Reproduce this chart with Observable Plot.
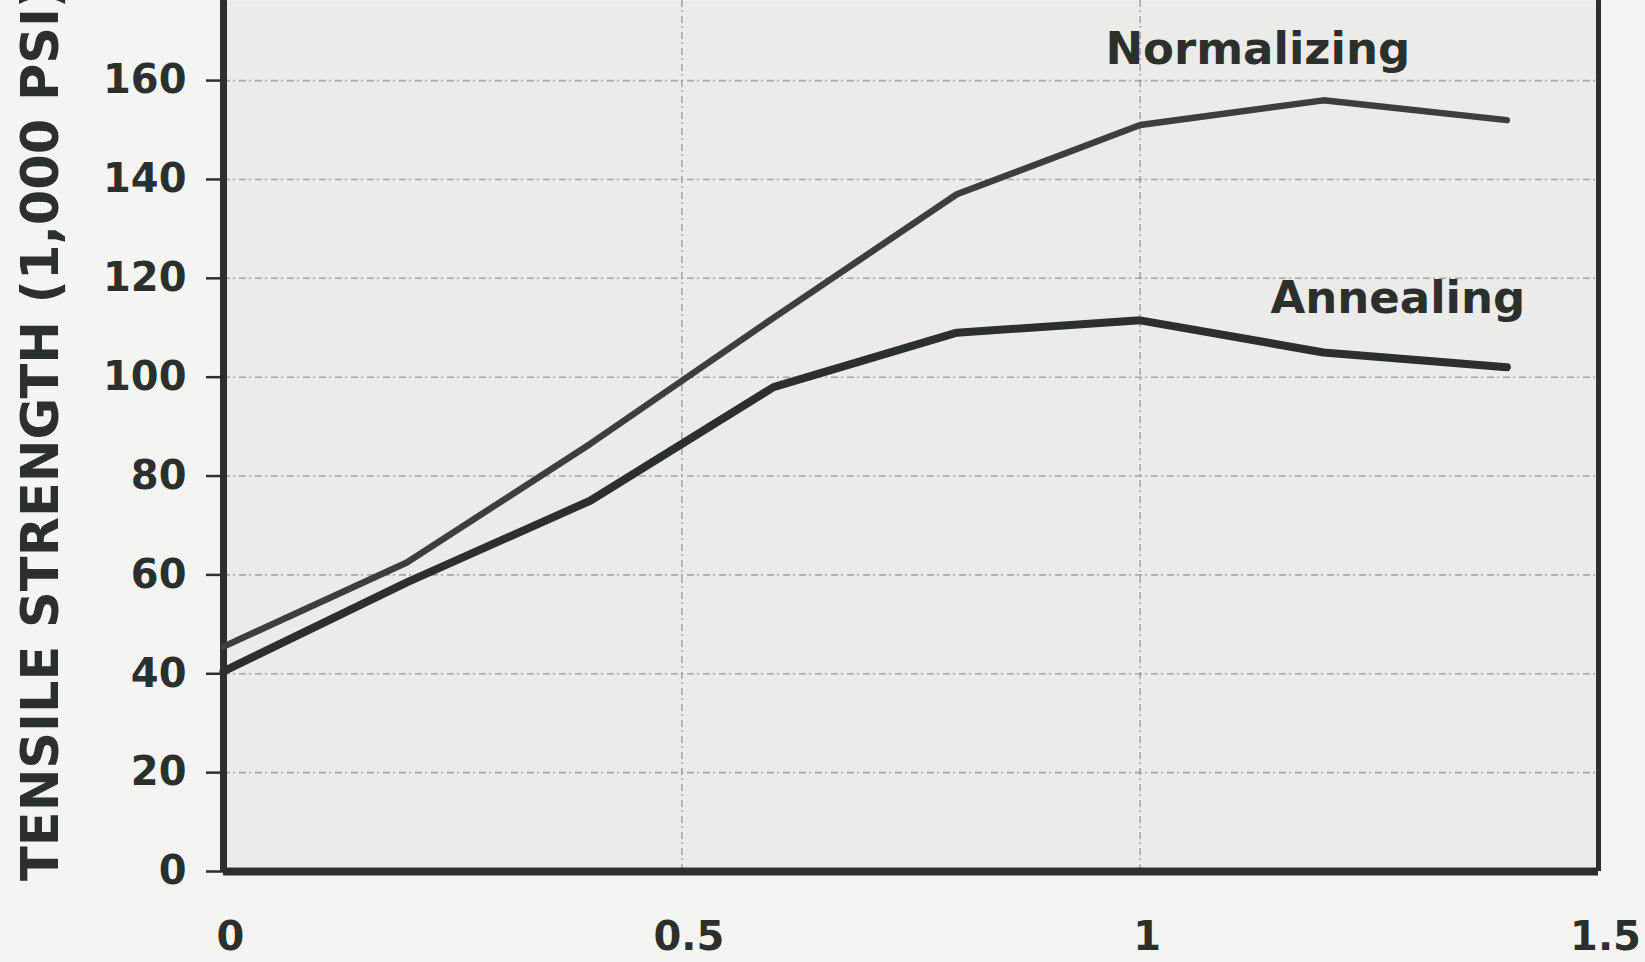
<!DOCTYPE html>
<html>
<head>
<meta charset="utf-8">
<script src="https://cdn.jsdelivr.net/npm/d3@7"></script>
<script src="https://cdn.jsdelivr.net/npm/@observablehq/plot@0.6"></script>
<style>
  html, body { margin: 0; padding: 0; background: #f4f4f3; }
  #chart { width: 1645px; height: 962px; overflow: hidden; }
</style>
</head>
<body>
<div id="chart"></div>
<script>
// ---- data ----
const carbon = [0, 0.2, 0.4, 0.6, 0.8, 1.0, 1.2, 1.4];
const normalizing = [45.5, 62.5, 86.5, 112, 137, 151, 156, 152];
const annealing = [40.5, 58.5, 75, 98, 109, 111.5, 105, 102];
const seriesNames = ["Normalizing", "Annealing"];
const yTicks = [0, 20, 40, 60, 80, 100, 120, 140, 160];
const xTicks = [0, 0.5, 1, 1.5];
const xTickLabels = ["0", "0.5", "1", "1.5"];
const yTitle = "TENSILE STRENGTH (1,000 PSI)";

const rows = carbon.flatMap((c, i) => [
  {carbon: c, strength: normalizing[i], series: seriesNames[0]},
  {carbon: c, strength: annealing[i], series: seriesNames[1]}
]);
const normRows = rows.filter(d => d.series === seriesNames[0]);
const annRows = rows.filter(d => d.series === seriesNames[1]);

const ink = "#2b302d";
const labelFont = "DejaVu Sans";

const svg = Plot.plot({
  width: 1645,
  height: 962,
  marginLeft: 223,
  marginRight: 47,
  marginTop: 0,
  marginBottom: 91,
  x: {domain: [0, 1.5]},
  y: {domain: [0, 176.2]},
  style: {background: "transparent", fontFamily: labelFont, fontWeight: "bold", color: ink},
  marks: [
    Plot.frame({fill: "#ebebea", stroke: null}),
    Plot.gridY(yTicks.filter(d => d > 0), {stroke: "#8a8a8a", strokeOpacity: 0.7, strokeWidth: 1.6, strokeDasharray: "7,3,2,4"}),
    Plot.gridX(xTicks.filter(d => d > 0 && d < 1.5), {stroke: "#8a8a8a", strokeOpacity: 0.7, strokeWidth: 1.6, strokeDasharray: "7,3,2,4"}),
    Plot.axisY(yTicks, {
      tickSize: 17, tickPadding: 20, tickFormat: d => String(d),
      fontSize: 40, fontWeight: "bold", stroke: ink, strokeWidth: 2.5, fill: ink, label: null
    }),
    Plot.axisX(xTicks, {
      tickSize: 0, tickPadding: 50, tickFormat: (d, i) => xTickLabels[i],
      fontSize: 40, fontWeight: "bold", fill: ink, dx: 7, label: null
    }),
    Plot.ruleX([0], {stroke: ink, strokeWidth: 7}),
    Plot.ruleX([1.5], {stroke: ink, strokeWidth: 5}),
    Plot.ruleY([0], {stroke: ink, strokeWidth: 8}),
    Plot.line(normRows, {x: "carbon", y: "strength", stroke: "#3b3f3d", strokeWidth: 6.5, strokeLinejoin: "round", strokeLinecap: "round"}),
    Plot.line(annRows, {x: "carbon", y: "strength", stroke: ink, strokeWidth: 8, strokeLinejoin: "round", strokeLinecap: "round"}),
    Plot.text(normRows, Plot.selectLast({x: "carbon", y: "strength", text: "series", dx: -249, dy: -71,
      fontSize: 45, fontWeight: "bold", fill: ink, fontFamily: labelFont})),
    Plot.text(annRows, Plot.selectLast({x: "carbon", y: "strength", text: "series", dx: -109, dy: -69,
      fontSize: 45, fontWeight: "bold", fill: ink, fontFamily: labelFont}))
  ]
});

d3.select(svg).append("text")
  .attr("transform", "translate(58,881) rotate(-90)")
  .attr("text-anchor", "start")
  .attr("font-family", labelFont)
  .attr("font-weight", "bold")
  .attr("font-size", 51)
  .attr("fill", ink)
  .text(yTitle);

document.getElementById("chart").appendChild(svg);
</script>
</body>
</html>
